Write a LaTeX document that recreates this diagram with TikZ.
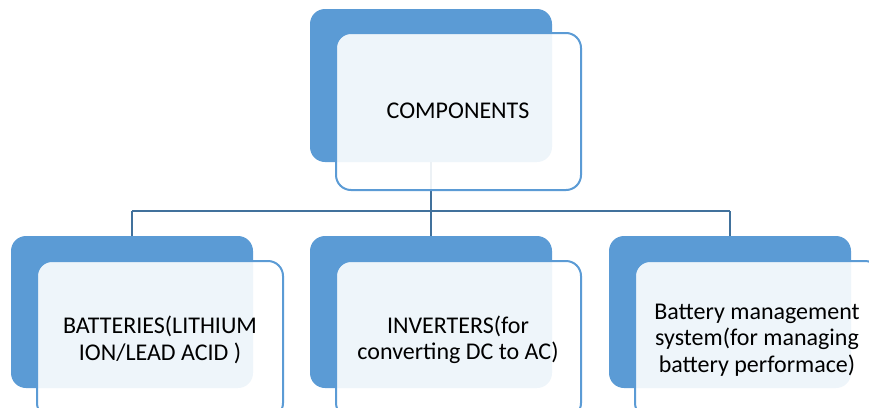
\documentclass[tikz,border=0pt]{standalone}
\usepackage{fontspec}
\setmainfont{Carlito}
\definecolor{dblue}{HTML}{5B9BD5}
\definecolor{lineblue}{HTML}{41719C}
\begin{document}
\begin{tikzpicture}[x=1pt,y=-1pt,
  darkbox/.style={fill=dblue,draw=none,rounded corners=15pt},
  lightbox/.style={fill=white,fill opacity=0.9,draw=dblue,draw opacity=1,line width=2pt,rounded corners=15pt},
  lbl/.style={align=center,font=\fontsize{24}{26.5}\selectfont,text=black,inner sep=0pt},
  conn/.style={draw=lineblue,line width=2.8pt}]
\useasboundingbox (0,0) rectangle (869,407);
\clip (0,0) rectangle (869,407);
% connectors
\coordinate (tb) at (431,162);
\coordinate (hj) at (431,211);
\coordinate (hl) at (132,211);
\coordinate (hr) at (730,211);
\coordinate (bl) at (132,236);
\coordinate (bm) at (431,236);
\coordinate (br) at (730,236);
\draw[conn] (tb) -- (hj);
\draw[conn] (hl) -- (hr);
\draw[conn] (hl) -- (bl);
\draw[conn] (hj) -- (bm);
\draw[conn] (hr) -- (br);
% top
\path[darkbox] (310,9) rectangle (552,162);
\path[lightbox] (336,33) rectangle (581,190);
\node[lbl] (top) at (458,111) {COMPONENTS};
% bottom left
\path[darkbox] (11,236) rectangle (253,388);
\path[lightbox] (37,261) rectangle (283,418);
\node[lbl] (batt) at (160,340) {BATTERIES(LITHIUM\\ION/LEAD ACID )};
% bottom middle
\path[darkbox] (310,236) rectangle (552,388);
\path[lightbox] (336,261) rectangle (581,418);
\node[lbl] (inv) at (458,340) {INVERTERS(for\\converting DC to AC)};
% bottom right
\path[darkbox] (609,236) rectangle (851,388);
\path[lightbox] (635,261) rectangle (880,418);
\node[lbl] (bms) at (757,340) {Battery management\\system(for managing\\battery performace)};
\end{tikzpicture}
\end{document}
